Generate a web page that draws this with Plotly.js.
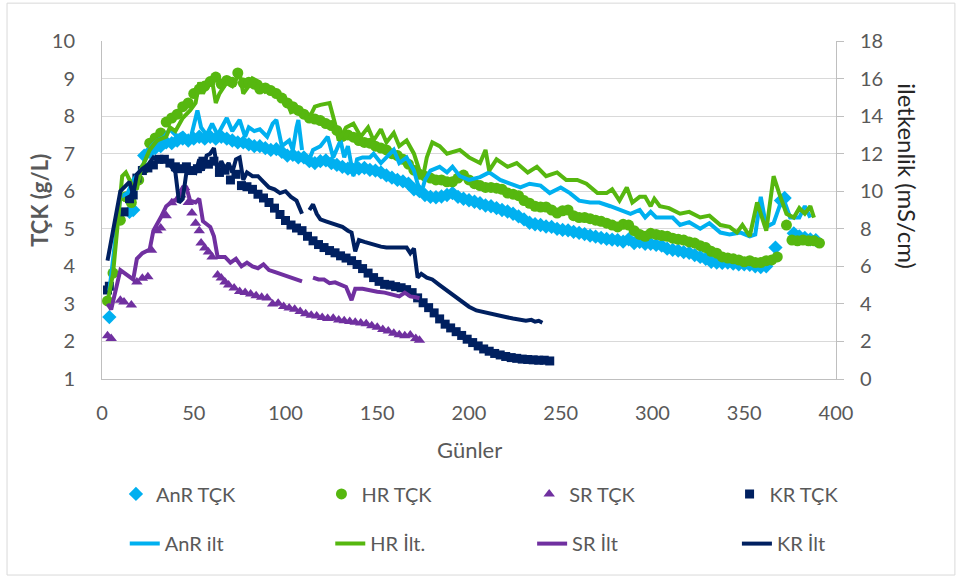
<!DOCTYPE html>
<html>
<head>
<meta charset="utf-8">
<script src="https://cdn.plot.ly/plotly-3.0.1.min.js"></script>
<style>
  html, body { margin: 0; padding: 0; background: #fff; }
  #chart { width: 960px; height: 579px; }
</style>
</head>
<body>
<div id="chart"></div>
<script>
// Total solids (TÇK, g/L) per reactor: [day, value]
const anrTck = [[4,2.65],[15,5.45],[17,5.5],[23,6.95],[26,7.05],[29,7.15],[32,7.2],[35,7.3],[38,7.28],[41,7.35],[44,7.4],[47,7.35],[50,7.4],[53,7.45],[56,7.4],[59,7.45],[62,7.4],[65,7.45],[68,7.4],[71,7.35],[74,7.3],[77,7.3],[80,7.25],[83,7.2],[86,7.2],[89,7.15],[92,7.1],[95,7.12],[98,7.05],[101,6.95],[104,6.97],[107,6.9],[110,6.9],[113,6.8],[116,6.75],[119,6.8],[122,6.82],[125,6.75],[128,6.7],[131,6.65],[134,6.6],[137,6.57],[140,6.6],[143,6.62],[146,6.57],[149,6.55],[152,6.5],[155,6.42],[158,6.36],[161,6.3],[164,6.26],[167,6.2],[170,6.05],[173,6.0],[176,5.9],[179,5.85],[182,5.84],[185,5.86],[188,5.9],[191,5.95],[194,5.85],[197,5.8],[200,5.76],[203,5.72],[206,5.68],[209,5.62],[212,5.6],[215,5.55],[218,5.5],[221,5.46],[224,5.4],[227,5.33],[230,5.25],[233,5.16],[236,5.12],[239,5.1],[242,5.06],[245,5.05],[248,5.0],[251,4.97],[254,4.96],[257,4.92],[260,4.89],[263,4.86],[266,4.82],[269,4.79],[272,4.76],[275,4.73],[278,4.71],[281,4.7],[284,4.66],[287,4.72],[290,4.62],[293,4.65],[296,4.6],[299,4.6],[302,4.57],[305,4.55],[308,4.47],[311,4.44],[314,4.42],[317,4.38],[320,4.36],[323,4.3],[326,4.25],[329,4.2],[332,4.12],[335,4.1],[338,4.09],[341,4.1],[344,4.07],[347,4.05],[350,4.05],[353,4.04],[356,4.0],[359,3.98],[362,4.0],[367,4.5],[370,5.75],[372,5.82],[377,4.88],[380,4.8],[383,4.76],[386,4.72],[389,4.7]];

const hrTck = [[3,3.08],[6,3.82],[10,5.23],[13,5.85],[16,5.7],[20,6.3],[23,6.6],[26,7.28],[29,7.42],[32,7.55],[35,7.84],[38,7.95],[41,8.05],[44,8.25],[47,8.35],[50,8.6],[53,8.72],[56,8.8],[59,8.92],[62,9.04],[65,8.85],[68,8.95],[71,8.9],[74,9.15],[77,8.88],[80,8.9],[83,8.85],[86,8.72],[89,8.75],[92,8.68],[95,8.6],[98,8.48],[101,8.35],[104,8.25],[107,8.15],[110,8.05],[113,7.95],[116,7.92],[119,7.88],[122,7.8],[125,7.75],[128,7.62],[131,7.46],[134,7.5],[137,7.44],[140,7.35],[143,7.3],[146,7.28],[149,7.2],[152,7.15],[155,7.1],[158,7.0],[161,6.95],[164,6.85],[167,6.72],[170,6.56],[173,6.45],[176,6.4],[179,6.35],[182,6.3],[185,6.3],[188,6.25],[191,6.25],[194,6.35],[197,6.43],[200,6.3],[203,6.2],[206,6.15],[209,6.1],[212,6.1],[215,6.08],[218,6.05],[221,5.95],[224,5.92],[227,5.88],[230,5.75],[233,5.68],[236,5.6],[239,5.58],[242,5.58],[245,5.5],[248,5.42],[251,5.48],[254,5.5],[257,5.35],[260,5.3],[263,5.3],[266,5.27],[269,5.23],[272,5.2],[275,5.15],[278,5.1],[281,5.05],[284,5.12],[287,5.1],[290,4.95],[293,4.85],[296,4.8],[299,4.88],[302,4.85],[305,4.82],[308,4.8],[311,4.75],[314,4.72],[317,4.7],[320,4.65],[323,4.62],[326,4.55],[329,4.5],[332,4.4],[335,4.35],[338,4.25],[341,4.22],[344,4.2],[347,4.17],[350,4.12],[353,4.15],[356,4.1],[359,4.1],[362,4.15],[365,4.17],[368,4.25],[373,5.1],[376,4.7],[379,4.68],[382,4.7],[385,4.68],[388,4.68],[391,4.62]];

const srTck = [[3,2.15],[5,2.08],[10,3.1],[12,3.05],[16,2.97],[19,3.58],[22,3.68],[25,3.72],[27,4.43],[30,4.95],[32,5.02],[35,5.35],[38,5.69],[41,5.78],[43,5.9],[45,6.1],[47,5.7],[49,5.42],[51,5.15],[53,4.95],[54,4.62],[56,4.49],[58,4.38],[60,4.25],[63,3.77],[65,3.69],[67,3.58],[69,3.5],[72,3.42],[75,3.33],[78,3.3],[81,3.26],[84,3.22],[87,3.18],[90,3.16],[93,3.0],[96,3.02],[99,2.93],[102,2.89],[105,2.86],[108,2.8],[111,2.74],[114,2.7],[117,2.68],[120,2.64],[123,2.61],[126,2.62],[129,2.57],[132,2.55],[135,2.53],[138,2.51],[141,2.49],[144,2.47],[147,2.42],[150,2.38],[153,2.32],[156,2.28],[159,2.22],[162,2.18],[165,2.15],[168,2.17],[171,2.08],[173,2.03]];

const krTck = [[3,3.37],[4,3.47],[12,5.45],[15,5.8],[17,5.9],[19,6.35],[22,6.55],[25,6.62],[28,6.7],[31,6.85],[34,6.85],[37,6.75],[40,6.65],[43,6.6],[46,6.65],[49,6.55],[52,6.6],[55,6.8],[58,6.72],[61,6.8],[64,6.5],[67,6.56],[70,6.3],[73,6.45],[76,6.15],[79,6.12],[82,6.05],[85,5.92],[88,5.82],[91,5.7],[94,5.55],[97,5.38],[100,5.22],[103,5.1],[106,5.02],[109,4.95],[112,4.8],[115,4.68],[118,4.58],[121,4.5],[124,4.42],[127,4.36],[130,4.28],[133,4.22],[136,4.15],[139,4.05],[142,3.94],[145,3.82],[148,3.7],[151,3.6],[154,3.52],[157,3.5],[160,3.46],[163,3.43],[166,3.38],[169,3.3],[172,3.16],[175,3.03],[178,2.9],[181,2.76],[184,2.6],[187,2.46],[190,2.36],[193,2.26],[196,2.16],[199,2.06],[202,1.97],[205,1.88],[208,1.8],[211,1.74],[214,1.68],[217,1.64],[220,1.6],[223,1.57],[226,1.55],[229,1.53],[232,1.52],[235,1.51],[238,1.5],[241,1.5],[244,1.48]];

// Conductivity (iletkenlik, mS/cm) per reactor: [day, value]; null marks the break in measurements
const anrIlt = [[4,4.7],[10,9.7],[14,9.9],[17,10.6],[21,11.1],[24,11.7],[27,12.4],[30,12.7],[34,12.9],[37,13.3],[41,12.9],[44,13.1],[48,12.7],[52,14.3],[54,13.4],[57,13.0],[60,13.6],[63,13.0],[66,13.5],[68,13.9],[71,13.2],[75,13.8],[78,12.9],[80,13.4],[83,13.2],[86,13.3],[90,12.9],[93,13.6],[95,13.8],[98,12.4],[102,12.7],[104,12.2],[106,13.4],[107,13.8],[109,12.2],[111,null],[113,11.7],[115,12.2],[119,12.4],[123,12.9],[126,11.8],[128,12.2],[130,12.7],[132,11.8],[134,12.4],[137,10.8],[139,11.7],[142,11.8],[146,11.8],[148,12.0],[152,11.5],[155,11.8],[159,12.2],[162,11.5],[166,11.8],[170,11.1],[172,10.4],[174,9.9],[176,10.6],[179,11.1],[184,11.3],[188,11.0],[191,11.3],[195,10.8],[200,10.6],[206,10.75],[211,11.0],[217,10.6],[222,10.4],[228,10.2],[233,10.4],[239,10.3],[244,9.9],[250,10.2],[255,9.9],[260,9.5],[266,9.4],[271,9.4],[277,9.2],[282,9.0],[288,8.8],[293,9.0],[296,8.6],[299,8.9],[302,8.6],[307,8.6],[311,8.6],[315,8.2],[320,8.35],[326,8.0],[331,8.3],[337,7.8],[342,7.7],[348,7.8],[353,7.6],[356,7.7],[359,9.7],[362,8.1],[366,8.3],[371,9.7],[375,8.6],[380,8.6],[383,9.2],[386,8.6]];

const hrIlt = [[3,4.1],[6,5.6],[11,10.8],[13,11.0],[16,10.4],[19,10.1],[21,11.1],[24,11.8],[26,12.2],[30,12.7],[35,12.9],[37,13.4],[40,13.2],[44,13.9],[48,14.3],[51,14.7],[53,15.8],[55,15.2],[57,15.6],[60,15.9],[62,14.7],[64,15.2],[68,15.8],[71,15.6],[75,16.3],[77,15.2],[80,15.6],[82,16.0],[86,15.8],[89,15.3],[91,15.4],[97,15.0],[101,14.7],[103,14.2],[106,14.3],[109,14.2],[111,null],[113,13.9],[116,14.5],[119,14.6],[124,14.7],[127,13.6],[129,12.7],[133,13.4],[137,13.6],[141,12.9],[145,13.4],[148,12.7],[152,13.3],[155,12.6],[159,13.1],[162,12.4],[166,12.7],[170,12.0],[173,11.1],[175,10.8],[177,11.8],[180,12.6],[184,12.4],[188,12.0],[191,12.1],[195,12.2],[200,11.8],[206,11.5],[209,12.2],[211,11.1],[215,11.7],[221,11.3],[226,11.5],[232,11.0],[237,11.3],[242,10.8],[248,11.0],[253,10.6],[259,10.6],[264,10.4],[270,9.9],[275,9.9],[278,10.1],[282,9.5],[286,10.2],[289,9.4],[293,9.7],[296,9.7],[299,9.2],[301,9.6],[304,9.2],[309,9.1],[315,8.8],[320,8.9],[326,8.6],[331,8.7],[337,8.2],[342,8.1],[346,7.8],[349,8.2],[353,7.6],[357,9.4],[362,7.9],[366,10.8],[369,9.9],[373,8.8],[377,8.6],[380,9.1],[383,8.8],[386,9.2],[388,8.6]];

const srIlt = [[3,4.0],[5,3.7],[10,5.8],[14,5.5],[17,5.3],[19,6.4],[22,6.7],[26,6.9],[28,7.9],[32,8.6],[35,9.2],[39,9.5],[41,9.5],[44,10.2],[46,10.2],[48,9.5],[51,9.4],[53,9.6],[55,8.4],[59,8.1],[61,7.6],[63,6.5],[67,6.5],[70,6.2],[73,6.4],[76,6.0],[79,6.2],[82,6.0],[85,5.9],[88,6.1],[91,5.8],[94,5.7],[97,5.6],[100,5.5],[103,5.4],[106,5.3],[109,5.2],[111,null],[115,5.4],[118,5.3],[121,5.3],[124,5.1],[127,5.15],[130,5.0],[133,4.9],[136,4.2],[138,4.8],[142,4.8],[146,4.7],[150,4.65],[154,4.6],[158,4.5],[162,4.4],[165,4.6],[168,4.4],[171,4.35],[173,4.3]];

const krIlt = [[3,6.3],[10,10.0],[13,10.3],[15,10.5],[17,9.8],[19,10.9],[22,11.2],[25,11.4],[28,11.8],[31,11.6],[34,11.7],[37,11.4],[40,11.0],[42,9.4],[44,9.6],[46,11.0],[48,11.2],[51,11.0],[53,11.7],[55,11.1],[57,11.9],[59,12.0],[61,12.3],[63,11.1],[65,11.6],[67,11.2],[69,11.5],[71,11.0],[73,11.7],[75,11.8],[77,10.6],[79,11.0],[82,10.8],[85,10.8],[88,10.5],[91,10.2],[94,10.1],[97,9.9],[100,10.0],[103,9.7],[106,9.5],[109,8.8],[111,null],[113,9.0],[115,9.3],[117,8.8],[119,8.5],[122,8.4],[125,8.3],[128,8.2],[131,8.1],[134,7.9],[136,7.8],[138,6.8],[140,7.4],[143,7.3],[146,7.2],[149,7.1],[152,7.05],[155,7.0],[158,7.0],[161,7.0],[164,6.95],[166,7.0],[168,6.7],[170,6.95],[172,5.4],[174,5.6],[177,5.4],[180,5.3],[184,5.0],[188,4.7],[192,4.4],[196,4.1],[200,3.85],[204,3.65],[208,3.55],[212,3.45],[216,3.38],[220,3.3],[224,3.22],[228,3.15],[231,3.1],[234,3.15],[236,3.05],[238,3.1],[240,3.0]];

const seriesNames = {
  anrTck: 'AnR TÇK', hrTck: 'HR TÇK', srTck: 'SR TÇK', krTck: 'KR TÇK',
  anrIlt: 'AnR ilt', hrIlt: 'HR İlt.', srIlt: 'SR İlt', krIlt: 'KR İlt'
};
const xTicks = [0, 50, 100, 150, 200, 250, 300, 350, 400];

const C_ANR = '#00B0F0', C_HR = '#56B70F', C_SR = '#7030A0', C_KR = '#002060';
const FONT = 'Lato, "Open Sans", sans-serif';
const GREY = '#595959';

const xs = pts => pts.map(p => p[0]);
const ys = pts => pts.map(p => p[1]);

function markerTrace(pts, name, color, symbol, size, legendId) {
  return {
    type: 'scatter', mode: 'markers', name: name,
    x: xs(pts), y: ys(pts), xaxis: 'x', yaxis: 'y',
    marker: { color: color, symbol: symbol, size: size, line: { width: 0 } },
    legend: legendId, hoverinfo: 'x+y+name'
  };
}
function lineTrace(pts, name, color, legendId) {
  return {
    type: 'scatter', mode: 'lines', name: name,
    x: xs(pts), y: ys(pts), xaxis: 'x', yaxis: 'y2',
    connectgaps: false,
    line: { color: color, width: 4, shape: 'linear' },
    legend: legendId, hoverinfo: 'x+y+name'
  };
}

const traces = [
  markerTrace(anrTck, seriesNames.anrTck, C_ANR, 'diamond', 11, 'legend'),
  markerTrace(hrTck, seriesNames.hrTck, C_HR, 'circle', 11, 'legend2'),
  markerTrace(srTck, seriesNames.srTck, C_SR, 'triangle-up', 10, 'legend3'),
  markerTrace(krTck, seriesNames.krTck, C_KR, 'square', 9, 'legend4'),
  lineTrace(anrIlt, seriesNames.anrIlt, C_ANR, 'legend5'),
  lineTrace(hrIlt, seriesNames.hrIlt, C_HR, 'legend6'),
  lineTrace(srIlt, seriesNames.srIlt, C_SR, 'legend7'),
  lineTrace(krIlt, seriesNames.krIlt, C_KR, 'legend8')
];

// One single-entry legend per key, laid out as a 4 x 2 grid under the axis title
function legendBox(x, y) {
  return {
    orientation: 'h', xanchor: 'left', yanchor: 'middle', x: x, y: y,
    font: { family: FONT, size: 20, color: GREY },
    bgcolor: 'rgba(0,0,0,0)', borderwidth: 0,
    itemclick: false, itemdoubleclick: false
  };
}
const legendCols = { markers: [0.019, 0.299, 0.582, 0.855], lines: [0.031, 0.311, 0.586, 0.865] };
const legendRows = { markers: -0.34, lines: -0.487 };

const layout = {
  width: 960, height: 579,
  margin: { l: 102, r: 124, t: 41, b: 200, autoexpand: false },
  paper_bgcolor: '#ffffff', plot_bgcolor: '#ffffff',
  font: { family: FONT, size: 20, color: GREY },
  showlegend: true,
  xaxis: {
    range: [0, 400], tickvals: xTicks, ticktext: xTicks.map(String),
    showgrid: false, zeroline: false,
    showline: true, linecolor: '#BFBFBF', linewidth: 1,
    ticks: '', ticklabelstandoff: 16,
    tickfont: { family: FONT, size: 20, color: GREY }
  },
  yaxis: {
    range: [1, 10], dtick: 1, tick0: 1,
    showgrid: true, gridcolor: '#D9D9D9', gridwidth: 1,
    zeroline: false, showline: true, linecolor: '#BFBFBF', linewidth: 1,
    ticks: '', ticklabelstandoff: 22,
    tickfont: { family: FONT, size: 20, color: GREY }
  },
  yaxis2: {
    overlaying: 'y', side: 'right', range: [0, 18], dtick: 2, tick0: 0,
    showgrid: false, zeroline: false, showline: true, linecolor: '#BFBFBF', linewidth: 1,
    ticks: 'outside', ticklen: 7, tickcolor: '#BFBFBF', tickwidth: 1,
    ticklabelstandoff: 12,
    tickfont: { family: FONT, size: 20, color: GREY }
  },
  legend:  legendBox(legendCols.markers[0], legendRows.markers),
  legend2: legendBox(legendCols.markers[1], legendRows.markers),
  legend3: legendBox(legendCols.markers[2], legendRows.markers),
  legend4: legendBox(legendCols.markers[3], legendRows.markers),
  legend5: legendBox(legendCols.lines[0], legendRows.lines),
  legend6: legendBox(legendCols.lines[1], legendRows.lines),
  legend7: legendBox(legendCols.lines[2], legendRows.lines),
  legend8: legendBox(legendCols.lines[3], legendRows.lines),
  annotations: [
    {
      text: '<b>TÇK (g/L)</b>', xref: 'paper', yref: 'paper',
      x: -0.0845, y: 0.53, textangle: -90, showarrow: false,
      xanchor: 'center', yanchor: 'middle',
      font: { family: FONT, size: 22, color: GREY }
    },
    {
      text: 'iletkenlik (mS/cm)', xref: 'paper', yref: 'paper',
      x: 1.098, y: 0.60, textangle: 90, showarrow: false,
      xanchor: 'center', yanchor: 'middle',
      font: { family: FONT, size: 24, color: '#262626' }
    },
    {
      text: 'Günler', xref: 'paper', yref: 'paper',
      x: 0.5, y: -0.21, showarrow: false,
      xanchor: 'center', yanchor: 'middle',
      font: { family: FONT, size: 22, color: GREY }
    }
  ],
  shapes: [
    {
      type: 'rect', xref: 'paper', yref: 'paper',
      x0: -0.1294, x1: 1.162, y0: -0.58, y1: 1.112,
      line: { color: '#D9D9D9', width: 1 }, fillcolor: 'rgba(0,0,0,0)', layer: 'below'
    }
  ]
};

Plotly.newPlot('chart', traces, layout, { displayModeBar: false, staticPlot: true });
</script>
</body>
</html>
